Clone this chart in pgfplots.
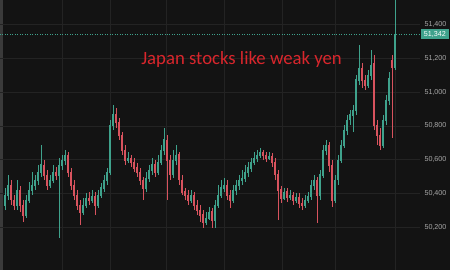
\documentclass[border=0pt]{standalone}
\usepackage{pgfplots}
\pgfplotsset{compat=1.18}
\usepackage{pgfplotstable}
\usepackage{fontspec}
\setmainfont{Liberation Sans}
\newfontfamily\titlefont{Carlito}
\definecolor{bg}{HTML}{131313}
\definecolor{upc}{HTML}{3FA28C}
\definecolor{dnc}{HTML}{D8535E}
\definecolor{gridc}{HTML}{232323}
\definecolor{lblc}{HTML}{A8A8A8}
\definecolor{titlec}{HTML}{D9262C}
\definecolor{edgec}{HTML}{3A3A3A}
\pgfplotstableread{
i o h l c
0 50332 50433 50302 50391
1 50391 50510 50362 50450
2 50450 50480 50332 50362
3 50362 50391 50302 50332
4 50332 50480 50302 50421
5 50421 50444 50291 50332
6 50332 50362 50231 50273
7 50273 50391 50255 50362
8 50362 50468 50344 50421
9 50421 50527 50391 50450
10 50450 50510 50421 50480
11 50480 50569 50450 50527
12 50527 50687 50498 50569
13 50569 50598 50480 50510
14 50510 50539 50421 50450
15 50450 50510 50433 50480
16 50480 50569 50462 50527
17 50527 50557 50480 50510
18 50510 50610 50137 50569
19 50569 50628 50539 50598
20 50598 50657 50569 50628
21 50628 50646 50498 50527
22 50527 50551 50421 50450
23 50450 50480 50362 50391
24 50391 50421 50302 50332
25 50332 50362 50214 50291
26 50291 50373 50273 50332
27 50332 50403 50314 50373
28 50373 50409 50332 50362
29 50362 50421 50344 50385
30 50385 50409 50273 50332
31 50332 50421 50314 50391
32 50391 50462 50373 50433
33 50433 50510 50409 50480
34 50480 50551 50450 50527
35 50527 50835 50510 50805
36 50805 50924 50776 50865
37 50865 50906 50788 50823
38 50823 50847 50717 50746
39 50746 50764 50628 50657
40 50657 50687 50569 50598
41 50598 50646 50581 50610
42 50610 50628 50557 50586
43 50586 50610 50527 50551
44 50551 50581 50498 50527
45 50527 50551 50450 50480
46 50480 50498 50362 50433
47 50433 50527 50409 50492
48 50492 50569 50468 50539
49 50539 50610 50510 50569
50 50569 50598 50498 50527
51 50527 50628 50510 50586
52 50586 50687 50569 50657
53 50657 50788 50628 50717
54 50717 50746 50362 50598
55 50598 50628 50480 50510
56 50510 50657 50492 50598
57 50598 50687 50569 50628
58 50628 50646 50450 50480
59 50480 50510 50391 50409
60 50409 50433 50362 50391
61 50391 50421 50332 50362
62 50362 50421 50344 50391
63 50391 50409 50302 50332
64 50332 50362 50273 50302
65 50302 50332 50231 50273
66 50273 50302 50196 50231
67 50231 50291 50214 50255
68 50255 50320 50243 50291
69 50291 50314 50196 50243
70 50243 50362 50196 50332
71 50332 50450 50314 50391
72 50391 50480 50373 50433
73 50433 50492 50409 50450
74 50450 50480 50362 50391
75 50391 50421 50314 50362
76 50362 50450 50344 50421
77 50421 50480 50391 50450
78 50450 50510 50421 50480
79 50480 50539 50450 50492
80 50492 50569 50468 50527
81 50527 50586 50498 50551
82 50551 50610 50527 50586
83 50586 50646 50569 50610
84 50610 50657 50586 50628
85 50628 50669 50610 50646
86 50646 50657 50598 50628
87 50628 50646 50586 50610
88 50610 50646 50598 50622
89 50622 50640 50557 50586
90 50586 50610 50480 50510
91 50510 50539 50243 50421
92 50421 50444 50344 50373
93 50373 50433 50362 50409
94 50409 50433 50350 50379
95 50379 50421 50362 50391
96 50391 50409 50332 50362
97 50362 50403 50344 50379
98 50379 50403 50314 50344
99 50344 50373 50302 50332
100 50332 50391 50314 50362
101 50362 50409 50344 50385
102 50385 50480 50362 50450
103 50450 50510 50421 50480
104 50480 50498 50226 50391
105 50391 50539 50362 50510
106 50510 50687 50492 50657
107 50657 50717 50628 50687
108 50687 50705 50527 50569
109 50569 50598 50320 50362
110 50362 50510 50344 50480
111 50480 50628 50450 50598
112 50598 50717 50581 50687
113 50687 50805 50669 50776
114 50776 50865 50746 50835
115 50835 50894 50805 50865
116 50865 50924 50764 50894
117 50894 51101 50865 51072
118 51072 51279 51042 51143
119 51143 51172 51024 51072
120 51072 51101 51012 51042
121 51042 51131 51024 51101
122 51101 51249 51072 51155
123 51172 51220 50776 50805
124 50805 50835 50687 50746
125 50746 50788 50657 50687
126 50687 50865 50669 50835
127 50835 50983 50805 50953
128 50953 51119 50924 51083
129 51190 51220 50728 51149
130 51149 51604 51131 51342
}\candles
\begin{document}
\begin{tikzpicture}
\fill[bg] (0,0) rectangle (450bp,270bp);
\useasboundingbox (0,0) rectangle (450bp,270bp);
\fill[edgec] (0,0) rectangle (2.5bp,270bp);
\begin{axis}[
  at={(0,0)}, anchor=south west,
  scale only axis, width=420bp, height=270bp,
  xmin=-1.667, xmax=138.33, ymin=49947.4, ymax=51545,
  axis line style={draw=none},
  major tick length=0pt,
  xtick={19,35,53.67,73,92.33,110,130},
  xticklabels={},
  ytick={50200,50400,50600,50800,51000,51200,51400},
  scaled y ticks=false,
  yticklabel pos=right,
  yticklabel style={text=lblc, font=\fontsize{7.2}{8}\selectfont, anchor=west, xshift=1bp,
    /pgf/number format/.cd, fixed, precision=0, 1000 sep={,}, assume math mode=true},
  xmajorgrids, ymajorgrids,
  grid style={gridc, line width=0.6bp},
]
% wicks up
\addplot[draw=none, mark=none, forget plot,
  restrict expr to domain={\thisrow{c}-\thisrow{o}}{0:100000},
  error bars/.cd, y dir=both, y explicit, error mark=none,
  error bar style={draw=upc, line width=0.6bp}]
  table[x=i, y expr={(\thisrow{o}+\thisrow{c})/2},
    y error plus expr={\thisrow{h}-(\thisrow{o}+\thisrow{c})/2},
    y error minus expr={(\thisrow{o}+\thisrow{c})/2-\thisrow{l}}] {\candles};
% wicks down
\addplot[draw=none, mark=none, forget plot,
  restrict expr to domain={\thisrow{c}-\thisrow{o}}{-100000:-0.01},
  error bars/.cd, y dir=both, y explicit, error mark=none,
  error bar style={draw=dnc, line width=0.6bp}]
  table[x=i, y expr={(\thisrow{o}+\thisrow{c})/2},
    y error plus expr={\thisrow{h}-(\thisrow{o}+\thisrow{c})/2},
    y error minus expr={(\thisrow{o}+\thisrow{c})/2-\thisrow{l}}] {\candles};
% bodies up
\addplot[draw=none, mark=none, forget plot,
  restrict expr to domain={\thisrow{c}-\thisrow{o}}{0:100000},
  error bars/.cd, y dir=both, y explicit, error mark=none,
  error bar style={draw=upc, line width=1.7bp}]
  table[x=i, y expr={(\thisrow{o}+\thisrow{c})/2},
    y error plus expr={abs(\thisrow{c}-\thisrow{o})/2+3},
    y error minus expr={abs(\thisrow{c}-\thisrow{o})/2+3}] {\candles};
% bodies down
\addplot[draw=none, mark=none, forget plot,
  restrict expr to domain={\thisrow{c}-\thisrow{o}}{-100000:-0.01},
  error bars/.cd, y dir=both, y explicit, error mark=none,
  error bar style={draw=dnc, line width=1.7bp}]
  table[x=i, y expr={(\thisrow{o}+\thisrow{c})/2},
    y error plus expr={abs(\thisrow{c}-\thisrow{o})/2+3},
    y error minus expr={abs(\thisrow{c}-\thisrow{o})/2+3}] {\candles};
% last price line
\addplot[upc, dotted, line width=0.5bp, forget plot] coordinates {(-1.667,51342) (138.33,51342)};
\end{axis}
\fill[upc] (421bp,230.5bp) rectangle (448.5bp,240.5bp);
\node[text=white, font=\fontsize{7.2}{8}\selectfont, inner sep=0pt] at (434.8bp,235.5bp) {51,342};
\node[text=titlec, font=\titlefont\fontsize{18.8}{22}\selectfont, anchor=base, inner sep=0pt] at (241.5bp,205bp) {Japan stocks like weak yen};
\end{tikzpicture}
\end{document}
